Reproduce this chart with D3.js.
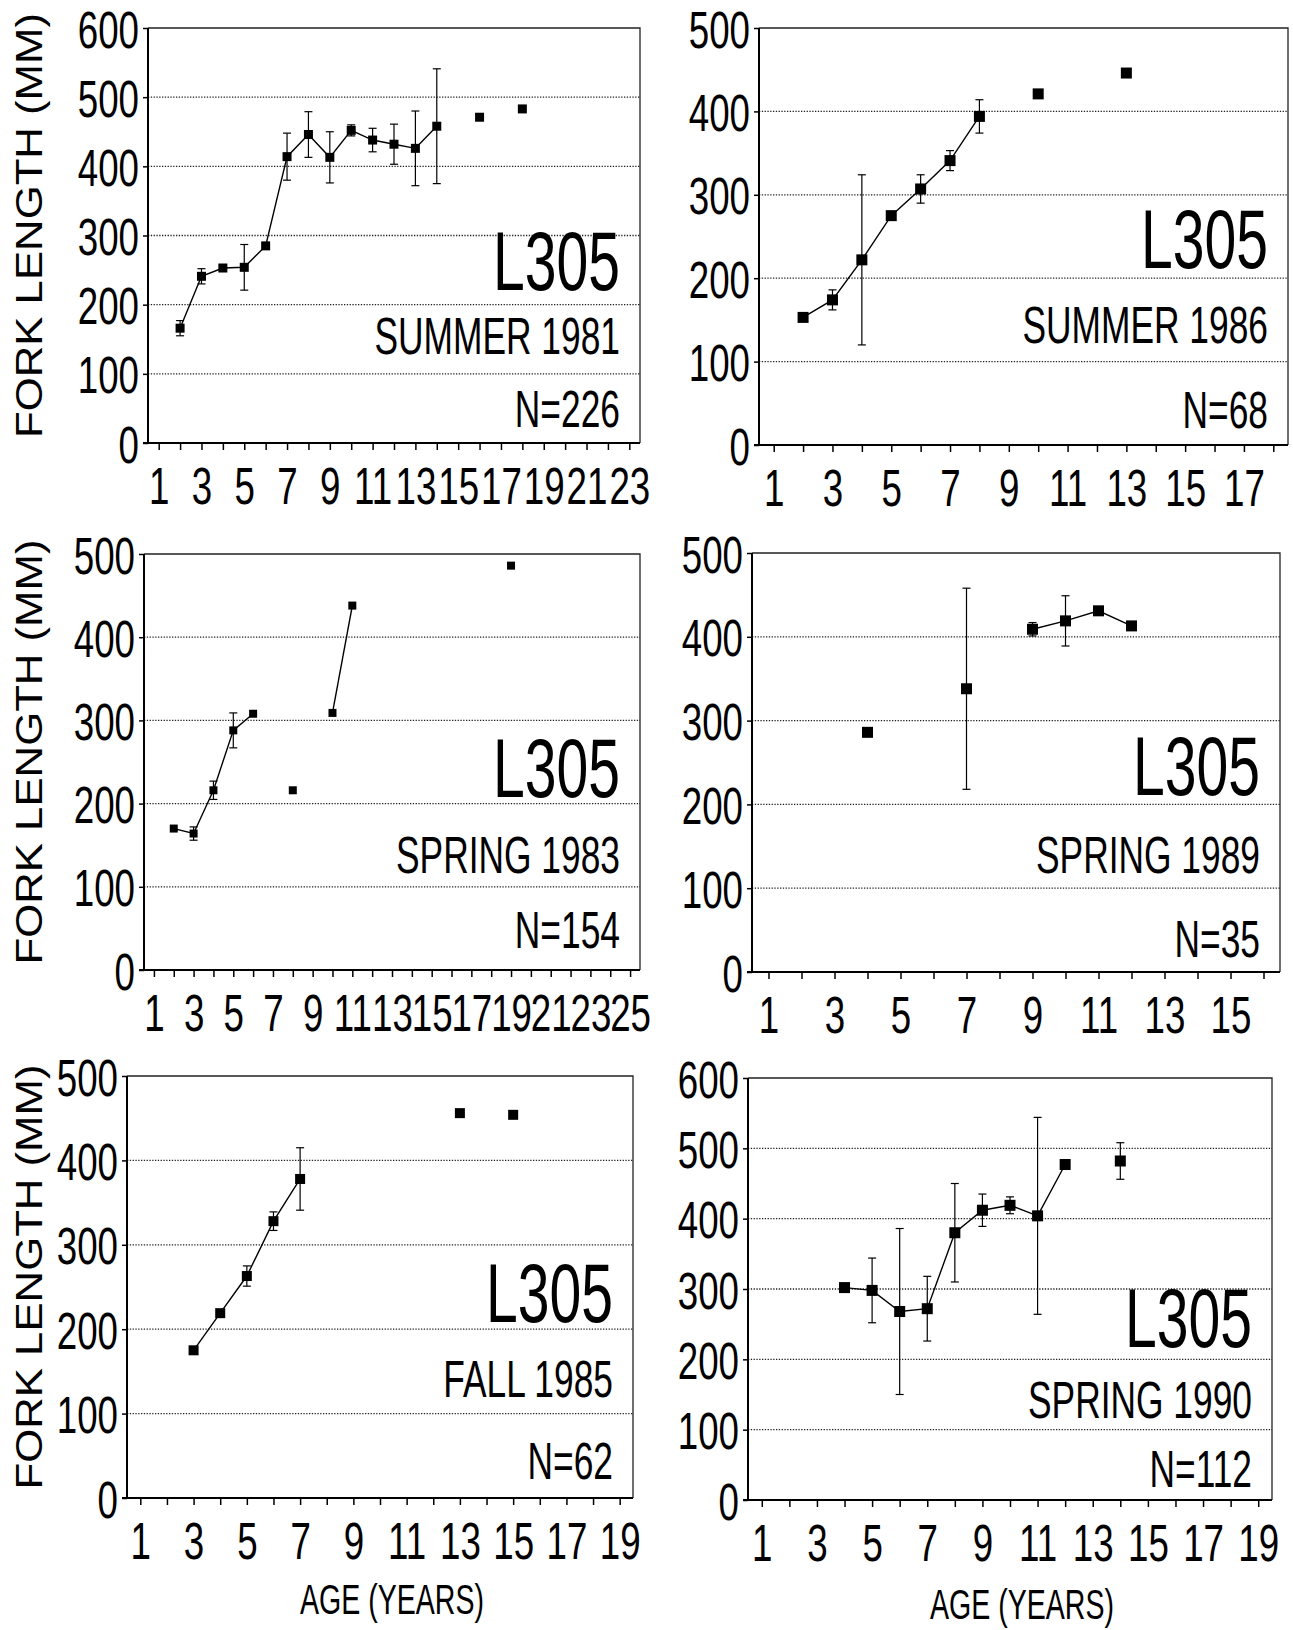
<!DOCTYPE html>
<html>
<head>
<meta charset="utf-8">
<script src="https://cdn.jsdelivr.net/npm/d3@7"></script>
<style>
  body { margin: 0; background: #fff; }
  svg { display: block; }
</style>
</head>
<body>
<svg id="chart" width="1293" height="1630"></svg>
<script>
// mean fork length (mm) by age, with error half-widths (0 = no bar drawn)
// summer 1981
var age81 = [2, 3, 4, 5, 6, 7, 8, 9, 10, 11, 12, 13, 14, 16, 18];
var fl81 = [166, 241, 253, 254, 285, 414, 446, 413, 452, 438, 432, 426, 458, 471, 483];
var err81 = [11, 11, 0, 33, 0, 34, 33, 37, 8, 17, 29, 54, 83, 0, 0];
var runs81 = [[2, 14]];

// summer 1986
var age86 = [2, 3, 4, 5, 6, 7, 8, 10, 13];
var fl86 = [153, 174, 222, 275, 307, 341, 394, 421, 446];
var err86 = [0, 12, 102, 0, 17, 12, 20, 0, 0];
var runs86 = [[2, 8]];

// spring 1983
var age83 = [2, 3, 4, 5, 6, 8, 10, 11, 19];
var fl83 = [170, 164, 216, 288, 308, 216, 309, 438, 486];
var err83 = [0, 8, 11, 21, 0, 0, 0, 0, 0];
var runs83 = [[2, 6], [10, 11]];

// spring 1989
var age89 = [4, 7, 9, 10, 11, 12];
var fl89 = [286, 338, 409, 419, 431, 413];
var err89 = [0, 120, 8, 30, 0, 0];
var runs89 = [[9, 12]];

// fall 1985
var age85 = [3, 4, 5, 6, 7, 13, 15];
var fl85 = [175, 219, 263, 328, 378, 456, 454];
var err85 = [0, 0, 12, 11, 37, 0, 0];
var runs85 = [[3, 7]];

// spring 1990
var age90 = [4, 5, 6, 7, 8, 9, 10, 11, 12, 14];
var fl90 = [302, 298, 268, 272, 380, 412, 419, 404, 477, 482];
var err90 = [0, 46, 118, 46, 70, 23, 12, 140, 0, 26];
var runs90 = [[4, 12]];

var panels = [
  { age: age81, fl: fl81, err: err81, runs: runs81, season: 'SUMMER 1981', n: 'N=226',
    xMax: 23, yMax: 600, box: [148, 28, 640, 443], mk: 9, txt: [-153, -89, -16], yTitle: true },
  { age: age86, fl: fl86, err: err86, runs: runs86, season: 'SUMMER 1986', n: 'N=68',
    xMax: 18, yMax: 500, box: [759, 28, 1288, 445], mk: 11, txt: [-177, -102, -17] },
  { age: age83, fl: fl83, err: err83, runs: runs83, season: 'SPRING 1983', n: 'N=154',
    xMax: 25, yMax: 500, box: [144, 554, 640, 970], mk: 8, txt: [-173, -97, -22], yTitle: true },
  { age: age89, fl: fl89, err: err89, runs: runs89, season: 'SPRING 1989', n: 'N=35',
    xMax: 16, yMax: 500, box: [752, 553, 1280, 972], mk: 11, txt: [-177, -99, -15] },
  { age: age85, fl: fl85, err: err85, runs: runs85, season: 'FALL 1985', n: 'N=62',
    xMax: 19, yMax: 500, box: [127, 1076, 633, 1498], mk: 10, txt: [-176, -101, -19], yTitle: true, xTitle: 1614 },
  { age: age90, fl: fl90, err: err90, runs: runs90, season: 'SPRING 1990', n: 'N=112',
    xMax: 19, yMax: 600, box: [748, 1078, 1272, 1500], mk: 11, txt: [-153, -82, -13], xTitle: 1619 }
];

var FONT = '"Liberation Sans", Arial, sans-serif';
var SQUEEZE = 0.68;
var TICK_SQUEEZE = 0.72;
var svg = d3.select('#chart');

// condensed, right-aligned text
var condensed = function (g, x, y, str, size) {
  g.append('text')
    .attr('transform', 'translate(' + x + ',' + y + ') scale(' + SQUEEZE + ',1)')
    .attr('text-anchor', 'end')
    .style('font-family', FONT)
    .style('font-size', size + 'px')
    .text(str);
};

panels.forEach(function (p) {
  var left = p.box[0], top = p.box[1], right = p.box[2], bottom = p.box[3];
  var g = svg.append('g');

  var x = d3.scaleLinear().domain([0.5, p.xMax + 0.5]).range([left, right]);
  var y = d3.scaleLinear().domain([0, p.yMax]).range([bottom, top]);

  // dotted gridlines
  g.selectAll('.grid').data(d3.range(100, p.yMax, 100)).enter().append('line')
    .attr('x1', left).attr('x2', right)
    .attr('y1', function (d) { return y(d); }).attr('y2', function (d) { return y(d); })
    .attr('stroke', '#222').attr('stroke-width', 1.3).attr('stroke-dasharray', '1.3,1.5');

  // frame
  g.append('path')
    .attr('d', 'M' + left + ',' + top + 'H' + right + 'V' + bottom)
    .attr('fill', 'none').attr('stroke', '#222').attr('stroke-width', 1.3);

  // axes
  var yAxis = d3.axisLeft(y).tickValues(d3.range(0, p.yMax + 1, 100)).tickSize(5).tickSizeOuter(0);
  var yG = g.append('g').attr('transform', 'translate(' + left + ',0)').call(yAxis);
  yG.select('.domain').remove();
  yG.selectAll('line').attr('stroke', '#000').attr('stroke-width', 1.5);
  yG.selectAll('text')
    .attr('x', 0).attr('dy', null).attr('y', 0)
    .attr('text-anchor', 'end')
    .attr('transform', 'translate(-9,19) scale(' + TICK_SQUEEZE + ',1)')
    .style('font-family', FONT).style('font-size', '51px').style('fill', '#000');

  var xAxis = d3.axisBottom(x).tickValues(d3.range(1, p.xMax + 1)).tickSize(7).tickSizeOuter(0)
    .tickFormat(function (d) { return d % 2 ? d : ''; });
  var xG = g.append('g').attr('transform', 'translate(0,' + bottom + ')').call(xAxis);
  xG.select('.domain').remove();
  xG.selectAll('line').attr('stroke', '#000').attr('stroke-width', 1.5);
  xG.selectAll('text')
    .attr('y', 0).attr('dy', null)
    .attr('transform', 'translate(0,61) scale(' + TICK_SQUEEZE + ',1)')
    .style('font-family', FONT).style('font-size', '51px').style('fill', '#000');

  g.append('line').attr('x1', left).attr('x2', left).attr('y1', top).attr('y2', bottom + 1)
    .attr('stroke', '#000').attr('stroke-width', 2);
  g.append('line').attr('x1', left - 5).attr('x2', right).attr('y1', bottom).attr('y2', bottom)
    .attr('stroke', '#000').attr('stroke-width', 2);

  var pts = p.age.map(function (a, i) { return { a: a, v: p.fl[i], e: p.err[i] }; });

  // connecting lines
  var line = d3.line().x(function (d) { return x(d.a); }).y(function (d) { return y(d.v); });
  p.runs.forEach(function (r) {
    var seg = pts.filter(function (d) { return d.a >= r[0] && d.a <= r[1]; });
    g.append('path').attr('d', line(seg)).attr('fill', 'none')
      .attr('stroke', '#000').attr('stroke-width', 1.4);
  });

  // error bars
  var bars = pts.filter(function (d) { return d.e > 0; });
  var eb = g.selectAll('.eb').data(bars).enter().append('g');
  eb.append('line')
    .attr('x1', function (d) { return x(d.a); }).attr('x2', function (d) { return x(d.a); })
    .attr('y1', function (d) { return y(d.v - d.e); }).attr('y2', function (d) { return y(d.v + d.e); })
    .attr('stroke', '#000').attr('stroke-width', 1.2);
  [-1, 1].forEach(function (s) {
    eb.append('line')
      .attr('x1', function (d) { return x(d.a) - 4; }).attr('x2', function (d) { return x(d.a) + 4; })
      .attr('y1', function (d) { return y(d.v + s * d.e); }).attr('y2', function (d) { return y(d.v + s * d.e); })
      .attr('stroke', '#000').attr('stroke-width', 1.2);
  });

  // square markers
  g.selectAll('.mk').data(pts).enter().append('rect')
    .attr('x', function (d) { return x(d.a) - p.mk / 2; })
    .attr('y', function (d) { return y(d.v) - p.mk / 2; })
    .attr('width', p.mk).attr('height', p.mk).attr('fill', '#000');

  // labels inside the panel
  var tx = right - 20;
  condensed(g, tx, bottom + p.txt[0], 'L305', 84);
  condensed(g, tx, bottom + p.txt[1], p.season, 52);
  condensed(g, tx, bottom + p.txt[2], p.n, 52);

  if (p.yTitle) {
    var cy = (top + bottom) / 2 - 10;
    g.append('text')
      .attr('transform', 'translate(42,' + cy + ') rotate(-90)')
      .attr('text-anchor', 'middle')
      .attr('textLength', 425).attr('lengthAdjust', 'spacingAndGlyphs')
      .style('font-family', FONT).style('font-size', '37px')
      .text('FORK LENGTH (MM)');
  }
  if (p.xTitle) {
    g.append('text')
      .attr('transform', 'translate(' + ((left + right) / 2 + 12) + ',' + p.xTitle + ') scale(' + SQUEEZE + ',1)')
      .attr('text-anchor', 'middle')
      .style('font-family', FONT).style('font-size', '42px')
      .text('AGE (YEARS)');
  }
});
</script>
</body>
</html>
